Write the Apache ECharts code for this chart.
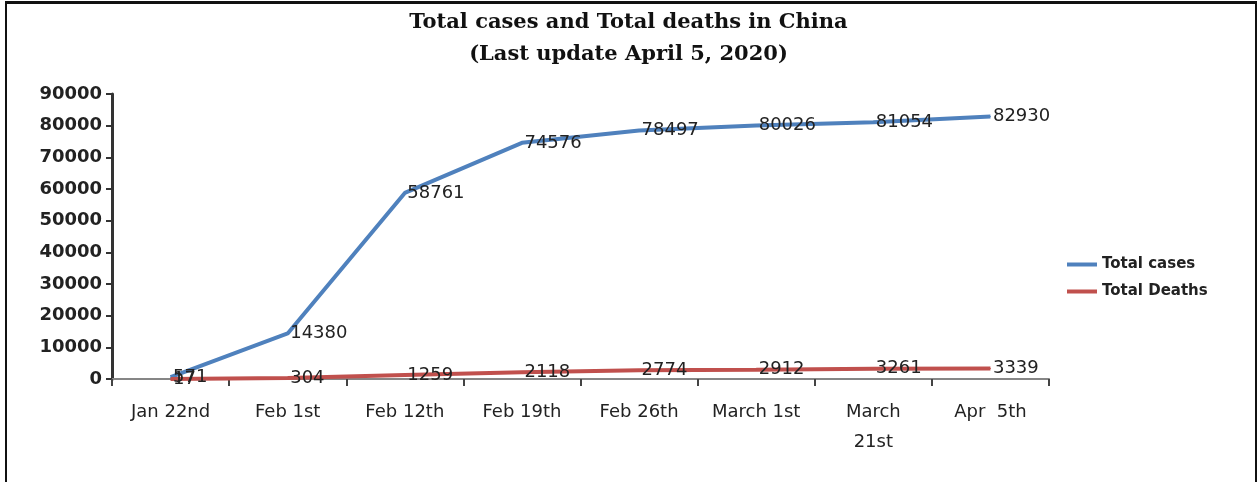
<!DOCTYPE html>
<html>
<head>
<meta charset="utf-8">
<script src="https://cdn.jsdelivr.net/npm/echarts@6/dist/echarts.min.js"></script>
<style>
  body { margin: 0; background: #fff; }
  #wrap { position: relative; width: 1257px; height: 482px; }
  #main { position: absolute; left: 0; top: 0; width: 1257px; height: 482px; }
  #frame {
    position: absolute; left: 5px; top: 1px; width: 1252px; height: 481px;
    border-top: 3px solid #111; border-left: 2px solid #111; border-right: 2px solid #111;
    box-sizing: border-box; pointer-events: none;
  }
</style>
</head>
<body>
<div id="wrap">
  <div id="main"></div>
  <div id="frame"></div>
</div>
<script>
const categories = ['Jan 22nd', 'Feb 1st', 'Feb 12th', 'Feb 19th', 'Feb 26th', 'March 1st', 'March 21st', 'Apr  5th'];
const totalCases = [571, 14380, 58761, 74576, 78497, 80026, 81054, 82930];
const totalDeaths = [17, 304, 1259, 2118, 2774, 2912, 3261, 3339];
const yTicks = [0, 10000, 20000, 30000, 40000, 50000, 60000, 70000, 80000, 90000];

const chart = echarts.init(document.getElementById('main'));

const labelStyle = {
    show: true,
    position: 'right',
    distance: 2,
    color: '#222',
    fontSize: 18,
    fontFamily: 'DejaVu Sans'
};

chart.setOption({
    animation: false,
    title: {
        text: 'Total cases and Total deaths in China\n(Last update April 5, 2020)',
        left: 'center',
        top: 2,
        textStyle: {
            fontFamily: 'DejaVu Serif',
            fontWeight: 'bold',
            fontSize: 21,
            lineHeight: 32,
            color: '#111'
        }
    },
    legend: {
        orient: 'vertical',
        left: 1062,
        top: 252,
        itemWidth: 30,
        itemHeight: 4,
        itemGap: 12,
        icon: 'rect',
        textStyle: {
            fontFamily: 'DejaVu Sans',
            fontSize: 15,
            fontWeight: 'bold',
            color: '#222'
        },
        data: ['Total cases', 'Total Deaths']
    },
    grid: {
        left: 112,
        right: 208,
        top: 94,
        bottom: 103
    },
    xAxis: {
        type: 'category',
        data: categories,
        boundaryGap: true,
        axisLine: { lineStyle: { color: '#868686', width: 2 } },
        axisTick: { show: true, length: 7, lineStyle: { color: '#444', width: 2 } },
        axisLabel: {
            margin: 18,
            fontSize: 18,
            fontFamily: 'DejaVu Sans',
            color: '#222',
            lineHeight: 30,
            formatter: v => v.replace('March 21st', 'March\n21st')
        }
    },
    yAxis: {
        type: 'value',
        min: yTicks[0],
        max: yTicks[yTicks.length - 1],
        interval: 10000,
        splitLine: { show: false },
        axisLine: { show: true, lineStyle: { color: '#333', width: 3 } },
        axisTick: { show: true, length: 6, lineStyle: { color: '#333', width: 2 } },
        axisLabel: {
            margin: 10,
            fontSize: 18,
            fontWeight: 'bold',
            fontFamily: 'DejaVu Sans',
            color: '#222',
            formatter: v => String(v)
        }
    },
    series: [
        {
            name: 'Total cases',
            type: 'line',
            data: totalCases,
            symbol: 'circle',
            symbolSize: 1,
            showSymbol: true,
            lineStyle: { color: '#4F81BD', width: 4 },
            itemStyle: { color: '#4F81BD' },
            label: labelStyle
        },
        {
            name: 'Total Deaths',
            type: 'line',
            data: totalDeaths,
            symbol: 'circle',
            symbolSize: 1,
            showSymbol: true,
            lineStyle: { color: '#C0504D', width: 4 },
            itemStyle: { color: '#C0504D' },
            label: labelStyle
        }
    ]
});
</script>
</body>
</html>
